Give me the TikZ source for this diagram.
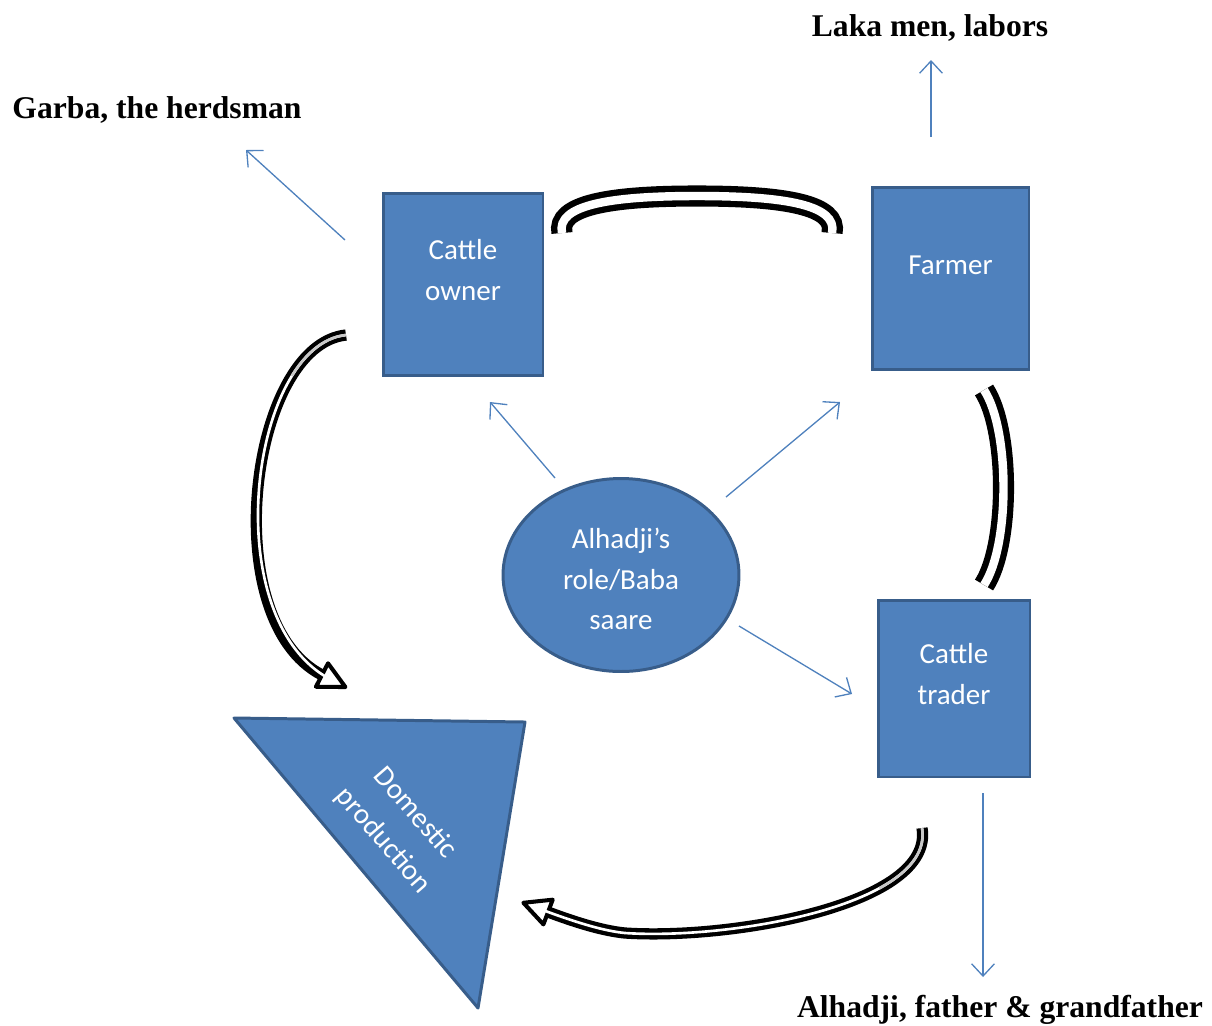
\documentclass[tikz,border=0pt]{standalone}
\usepackage{fontspec}
\setmainfont{Liberation Serif}
\newfontfamily\boxfont{Carlito}
\usetikzlibrary{arrows.meta,shapes.geometric,decorations.markings}
\definecolor{boxfill}{HTML}{4F81BD}
\definecolor{boxline}{HTML}{385D8A}
\definecolor{ribbongray}{HTML}{C8C8C8}
\begin{document}
\begin{tikzpicture}[x=0.02cm,y=-0.02cm,
  rolebox/.style={draw=boxline,fill=boxfill,line width=1.7pt,inner sep=0pt},
  boxtext/.style={text=white,align=center,font=\boxfont\fontsize{16.5}{23.8}\selectfont},
  title/.style={font=\bfseries\fontsize{18}{22}\selectfont,inner sep=0pt},
  thinarrow/.style={draw=boxfill,line width=0.75pt,-{Straight Barb[length=7pt,width=13pt]}},
  bandout/.style={line width=12pt,black},
  bandin/.style={line width=4.8pt,white},
  slimout/.style={line width=6.4pt,black},
  slimin/.style={line width=1.5pt,white},
  headmark/.style={postaction={decorate,decoration={markings,mark=at position 0.9999 with {
      \draw[line width=2.3pt,fill=white,line join=round]
        (15pt,0pt) -- (0pt,7.5pt) -- (0pt,-7.5pt) -- cycle;}}}}
]
\useasboundingbox (0,0) rectangle (1212,1025);

% role boxes
\node[rolebox,minimum width=3.2cm,minimum height=3.66cm] (owner) at (463,284.5) {};
\node[boxtext] (ownertext) at (463,270) {Cattle\\owner};
\node[rolebox,minimum width=3.14cm,minimum height=3.66cm] (farmer) at (950.5,278.5) {};
\node[boxtext] (farmertext) at (950.5,265) {Farmer};
\node[rolebox,minimum width=3.04cm,minimum height=3.54cm] (trader) at (954,688.5) {};
\node[boxtext] (tradertext) at (954,674) {Cattle\\trader};

% central role
\node[rolebox,ellipse,minimum width=4.72cm,minimum height=3.86cm] (role) at (621,575) {};
\node[boxtext,font=\boxfont\fontsize{16.5}{23.2}\selectfont] (roletext) at (621,579) {Alhadji’s\\role/Baba\\saare};

% domestic production triangle
\draw[draw=boxline,fill=boxfill,line width=1.7pt,line join=round]
  (234,718) -- (525,722) -- (478,1008) -- cycle;
\node[boxtext,rotate=-49] (domestic) at (399,827) {Domestic\\production};

% outer labels
\node[title] (laka) at (930,28) {Laka men, labors};
\node[title] (garba) at (157,110) {Garba, the herdsman};
\node[title] (alhadji) at (1000,1010) {Alhadji, father \& grandfather};

% thin pointers
\coordinate (g0) at (345,240);   \coordinate (g1) at (246,150);
\coordinate (l0) at (931,137);   \coordinate (l1) at (931,60);
\coordinate (a0) at (983,793);   \coordinate (a1) at (983,977);
\coordinate (r1a) at (555,478);  \coordinate (r1b) at (490,402);
\coordinate (r2a) at (726,497);  \coordinate (r2b) at (840,402);
\coordinate (r3a) at (739,626);  \coordinate (r3b) at (852,694);
\draw[thinarrow] (g0) -- (g1);
\draw[thinarrow] (l0) -- (l1);
\draw[thinarrow] (a0) -- (a1);
\draw[thinarrow] (r1a) -- (r1b);
\draw[thinarrow] (r2a) -- (r2b);
\draw[thinarrow] (r3a) -- (r3b);

% ribbon between owner and farmer
\coordinate (t0) at (562,233); \coordinate (t1) at (832,233);
\draw[bandout] (t0) .. controls (556,205) and (610,196) .. (697,196)
  .. controls (785,196) and (838,205) .. (t1);
\draw[bandin] (t0) .. controls (556,205) and (610,196) .. (697,196)
  .. controls (785,196) and (838,205) .. (t1);

% ribbon between farmer and trader
\coordinate (s0) at (984,390); \coordinate (s1) at (984,585);
\draw[bandout] (s0) .. controls (1010,430) and (1010,545) .. (s1);
\draw[bandin] (s0) .. controls (1010,430) and (1010,545) .. (s1);

% curved arrow from owner down to domestic production
\coordinate (c0) at (346,335); \coordinate (c1) at (322,675);
\draw[slimout,headmark] (c0) .. controls (250,345) and (215,620) .. (c1);
\draw[slimin,shorten >=-6pt] (c0) .. controls (250,345) and (215,620) .. (c1);
\draw[slimin,ribbongray,dash pattern=on 40pt off 2000pt] (c0) .. controls (250,345) and (215,620) .. (c1);

% curved arrow from trader back to domestic production
\coordinate (b0) at (922,828); \coordinate (b1) at (548,912);
\draw[slimout,headmark] (b0) .. controls (935,905) and (730,940) .. (625,933)
  .. controls (605,931) and (580,924) .. (b1);
\draw[slimin,shorten >=-6pt] (b0) .. controls (935,905) and (730,940) .. (625,933)
  .. controls (605,931) and (580,924) .. (b1);
\draw[slimin,ribbongray,dash pattern=on 45pt off 2000pt] (b0) .. controls (935,905) and (730,940) .. (625,933)
  .. controls (605,931) and (580,924) .. (b1);
\end{tikzpicture}
\end{document}
